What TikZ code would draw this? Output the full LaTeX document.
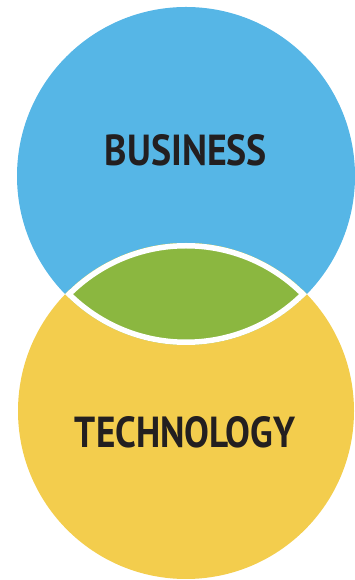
\documentclass[tikz,border=0pt]{standalone}
\usepackage{fontspec}
\setmainfont{PT Sans}
\usepackage{graphicx}
\definecolor{bizblue}{RGB}{86,182,230}
\definecolor{techyellow}{RGB}{243,205,77}
\definecolor{overlapgreen}{RGB}{139,183,64}
\definecolor{labelink}{RGB}{35,31,32}
\newcommand{\venntext}[2]{\resizebox{#1}{31pt}{\bfseries #2}}

\begin{document}
\begin{tikzpicture}[x=1pt,y=1pt, every node/.style={inner sep=0pt, outer sep=0pt, text=labelink}]
\useasboundingbox (0,0) rectangle (354,580);
\coordinate (bizc) at (186,404);
\coordinate (techc) at (186,169);

\fill[bizblue] (bizc) circle (169);
\fill[techyellow] (techc) circle (168);

\begin{scope}
\clip (bizc) circle (169);
\clip (techc) circle (168);
\fill[overlapgreen] (bizc) circle (169);
\draw[white, line width=11] (bizc) circle (169);
\draw[white, line width=11] (techc) circle (168);
\end{scope}

\node (biz) at (186,429.5) {\venntext{162pt}{BUSINESS}};
\node (tech) at (185,147.5) {\venntext{220pt}{TECHNOLOGY}};
\end{tikzpicture}
\end{document}
